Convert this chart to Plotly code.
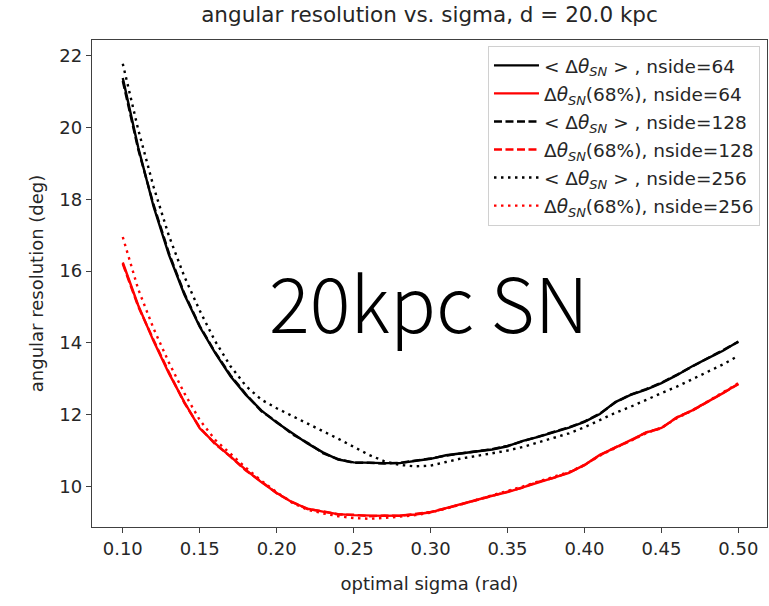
import plotly.graph_objects as go

# optimal sigma grid (rad)
sigma = [0.10, 0.11, 0.12, 0.13, 0.14, 0.15, 0.16, 0.17, 0.18, 0.19,
         0.20, 0.21, 0.22, 0.23, 0.24, 0.25, 0.26, 0.27, 0.28, 0.29,
         0.30, 0.31, 0.32, 0.33, 0.34, 0.35, 0.36, 0.37, 0.38, 0.39,
         0.40, 0.41, 0.42, 0.43, 0.44, 0.45, 0.46, 0.47, 0.48, 0.49, 0.50]

# mean angular error <dtheta_SN> (deg)
mean_64 = [21.38, 19.45, 17.80, 16.45, 15.35, 14.45, 13.72, 13.07, 12.55, 12.12,
           11.78, 11.48, 11.20, 10.95, 10.75, 10.67, 10.65, 10.65, 10.65, 10.70,
           10.77, 10.87, 10.92, 10.97, 11.03, 11.12, 11.27, 11.38, 11.50, 11.64,
           11.80, 12.02, 12.35, 12.55, 12.70, 12.88, 13.10, 13.35, 13.57, 13.78, 14.04]
mean_128 = [21.30, 19.40, 17.85, 16.50, 15.38, 14.47, 13.74, 13.10, 12.57, 12.10,
            11.80, 11.46, 11.22, 10.93, 10.76, 10.66, 10.66, 10.64, 10.66, 10.71,
            10.78, 10.86, 10.93, 10.98, 11.04, 11.13, 11.26, 11.39, 11.51, 11.65,
            11.81, 12.03, 12.34, 12.56, 12.71, 12.89, 13.11, 13.34, 13.58, 13.79, 14.03]
mean_256 = [21.78, 19.95, 18.35, 16.98, 15.85, 14.90, 14.05, 13.35, 12.80, 12.42,
            12.18, 11.96, 11.75, 11.54, 11.33, 11.10, 10.88, 10.70, 10.60, 10.56,
            10.58, 10.68, 10.78, 10.85, 10.92, 11.00, 11.10, 11.22, 11.35, 11.48,
            11.65, 11.85, 12.05, 12.22, 12.42, 12.60, 12.78, 12.98, 13.18, 13.40, 13.64]

# 68% containment angle dtheta_SN(68%) (deg)
cont_64 = [16.24, 15.05, 14.05, 13.15, 12.35, 11.62, 11.20, 10.82, 10.46, 10.12,
           9.82, 9.56, 9.38, 9.30, 9.23, 9.20, 9.18, 9.18, 9.19, 9.22,
           9.28, 9.40, 9.50, 9.62, 9.74, 9.84, 9.98, 10.12, 10.25, 10.38,
           10.60, 10.88, 11.08, 11.28, 11.50, 11.63, 11.92, 12.12, 12.35, 12.60, 12.86]
cont_128 = [16.20, 15.02, 14.08, 13.18, 12.33, 11.64, 11.18, 10.83, 10.44, 10.14,
            9.81, 9.57, 9.37, 9.31, 9.22, 9.21, 9.17, 9.19, 9.18, 9.23,
            9.29, 9.39, 9.51, 9.61, 9.75, 9.85, 9.97, 10.13, 10.24, 10.39,
            10.59, 10.87, 11.09, 11.27, 11.51, 11.62, 11.93, 12.11, 12.36, 12.59, 12.85]
cont_256 = [16.95, 15.50, 14.40, 13.45, 12.60, 11.85, 11.30, 10.90, 10.52, 10.16,
            9.84, 9.55, 9.35, 9.25, 9.17, 9.12, 9.10, 9.12, 9.15, 9.20,
            9.27, 9.38, 9.50, 9.63, 9.75, 9.86, 10.00, 10.14, 10.26, 10.40,
            10.60, 10.86, 11.07, 11.28, 11.48, 11.64, 11.90, 12.12, 12.36, 12.62, 12.88]

MEAN = "&lt; Δ<i>θ</i><sub><i>SN</i></sub> &gt; , nside="
CONT = "Δ<i>θ</i><sub><i>SN</i></sub>(68%), nside="

series = [
    (mean_64, MEAN + "64", "black", "solid"),
    (cont_64, CONT + "64", "#ff0000", "solid"),
    (mean_128, MEAN + "128", "black", "8px,3.5px"),
    (cont_128, CONT + "128", "#ff0000", "8px,3.5px"),
    (mean_256, MEAN + "256", "black", "2.5px,4.5px"),
    (cont_256, CONT + "256", "#ff0000", "2.5px,4.5px"),
]

fig = go.Figure()
for i, (vals, name, color, dash) in enumerate(series):
    fig.add_trace(go.Scatter(
        x=sigma, y=vals, mode="lines", name=name, legendgroup=str(i),
        line=dict(color=color, width=2.4, dash=dash),
    ))

FONT = "DejaVu Sans"
TXT = "#262626"
axis_common = dict(
    showline=True, mirror=True, linecolor="#404040", linewidth=1.3,
    ticks="outside", ticklen=5, tickcolor="#404040", tickwidth=1.3,
    showgrid=False, zeroline=False,
    tickfont=dict(family=FONT, size=18, color=TXT),
)

fig.update_layout(
    width=769, height=606,
    margin=dict(l=92, r=2, t=40, b=79),
    paper_bgcolor="white", plot_bgcolor="white",
    title=dict(text="angular resolution vs. sigma, d = 20.0 kpc",
               font=dict(family=FONT, size=21.5, color=TXT),
               x=0.5, xref="paper", xanchor="center", y=0.976, yref="container",
               yanchor="middle"),
    xaxis=dict(range=[0.08, 0.5186], tickvals=[0.10, 0.15, 0.20, 0.25, 0.30, 0.35, 0.40, 0.45, 0.50],
               ticktext=["0.10", "0.15", "0.20", "0.25", "0.30", "0.35", "0.40", "0.45", "0.50"],
               title=dict(text="optimal sigma (rad)", font=dict(family=FONT, size=18, color=TXT),
                          standoff=19),
               **axis_common),
    yaxis=dict(range=[8.87, 22.44], tickvals=[10, 12, 14, 16, 18, 20, 22],
               title=dict(text="angular resolution (deg)", font=dict(family=FONT, size=18, color=TXT),
                          standoff=11),
               **axis_common),
    legend=dict(x=0.9896, y=0.988, xanchor="right", yanchor="top",
                bgcolor="rgba(255,255,255,0.85)", bordercolor="#d0d0d0", borderwidth=1,
                font=dict(family=FONT, size=18.5, color=TXT),
                tracegroupgap=1, itemwidth=45, traceorder="grouped"),
    showlegend=True,
)

fig.add_annotation(text="20kpc SN", x=0.2984, y=15.2, xref="x", yref="y",
                   showarrow=False,
                   font=dict(family="Noto Sans CJK JP", size=76, color="black", weight=300))

fig.write_html("out.html")
